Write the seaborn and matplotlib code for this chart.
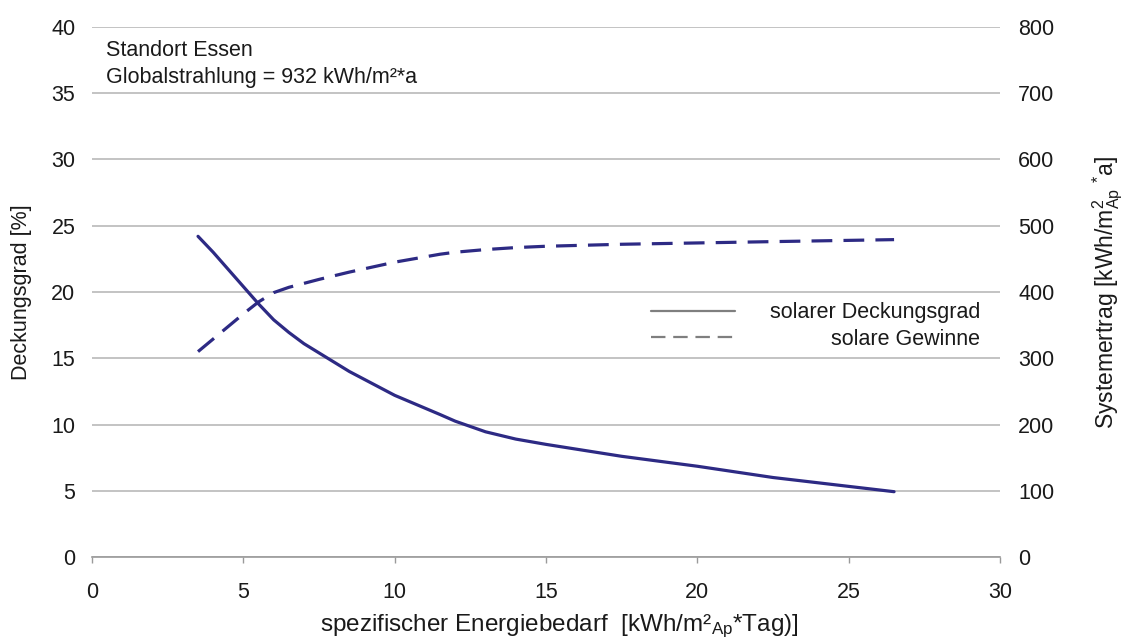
import matplotlib
matplotlib.use("Agg")
import matplotlib.pyplot as plt
import numpy as np
import pandas as pd
import seaborn as sns
from matplotlib.lines import Line2D

# ---- data ----
bedarf = [3.5, 4.0, 4.5, 5.0, 5.5, 6.0, 6.5, 7.0, 7.5, 8.5, 10, 11.5, 12, 13, 14, 15, 17.5, 20, 22.5, 26.5]
deckungsgrad = [24.2, 23.0, 21.7, 20.4, 19.1, 17.9, 16.95, 16.1, 15.4, 14.0, 12.2, 10.75, 10.25, 9.45, 8.9, 8.5, 7.6, 6.85, 6.0, 4.93]
gewinne = [310, 329, 348, 367, 385, 399, 407, 413, 419, 430, 445, 457, 460, 464, 467, 469, 472, 474, 476, 479]

x_ticks = [0, 5, 10, 15, 20, 25, 30]
y_left_ticks = [0, 5, 10, 15, 20, 25, 30, 35, 40]
y_right_ticks = [0, 100, 200, 300, 400, 500, 600, 700, 800]
series_labels = ["solarer Deckungsgrad", "solare Gewinne"]
note_lines = ["Standort Essen", "Globalstrahlung = 932 kWh/m²*a"]

df = pd.DataFrame({"bedarf": bedarf, "deckungsgrad": deckungsgrad, "gewinne": gewinne})

sns.set_theme(style="white")
plt.rcParams["font.family"] = ["Liberation Sans", "DejaVu Sans"]
plt.rcParams["mathtext.fontset"] = "custom"
plt.rcParams["mathtext.rm"] = "Liberation Sans"
plt.rcParams["mathtext.it"] = "Liberation Sans:italic"
plt.rcParams["mathtext.bf"] = "Liberation Sans:bold"

FS = 15.5
TXT = "#1a1a1a"
NAVY = "#2d2a84"
GRID = "#b9b9b9"

fig = plt.figure(figsize=(11.37, 6.41), dpi=100)
ax = fig.add_axes([0.081, 0.131, 0.7985, 0.827])
ax2 = ax.twinx()

sns.lineplot(data=df, x="bedarf", y="deckungsgrad", ax=ax, color=NAVY, lw=2.3)
sns.lineplot(data=df, x="bedarf", y="gewinne", ax=ax2, color=NAVY, lw=2.3,
             linestyle=(0, (6.5, 3.5)))

ax.set_xlim(0, 30)
ax.set_ylim(0, 40)
ax2.set_ylim(0, 800)
ax.set_xticks(x_ticks)
ax.set_yticks(y_left_ticks)
ax2.set_yticks(y_right_ticks)

ax.grid(axis="y", color=GRID, lw=1.2)
ax.grid(axis="x", visible=False)
ax2.grid(False)

for a in (ax, ax2):
    for s in ("top", "left", "right"):
        a.spines[s].set_visible(False)
ax2.spines["bottom"].set_visible(False)
ax.spines["bottom"].set_color("#9a9a9a")
ax.spines["bottom"].set_linewidth(1.2)

ax.tick_params(axis="x", bottom=True, length=4, width=1.0, color="#9a9a9a",
               pad=14, labelsize=FS, labelcolor=TXT)
ax.tick_params(axis="y", left=False, length=0, pad=12, labelsize=FS, labelcolor=TXT)
ax2.tick_params(axis="y", right=False, length=0, pad=13, labelsize=FS, labelcolor=TXT)

ax.set_xlabel("spezifischer Energiebedarf  [kWh/m²$_{\\mathrm{Ap}}$*Tag)]",
              fontsize=17.5, color=TXT)
ax.xaxis.set_label_coords(0.515, -0.105)
ax.set_ylabel("Deckungsgrad [%]", fontsize=FS, color=TXT, labelpad=14)
ax2.set_ylabel("Systemertrag [kWh/m$^{2}_{\\mathrm{Ap}}$ $^{*}$a]",
               fontsize=16.5, color=TXT, labelpad=26)

ax.text(0.46, 37.77, note_lines[0], fontsize=FS, color=TXT, va="baseline", ha="left")
ax.text(0.46, 35.78, note_lines[1], fontsize=FS, color=TXT, va="baseline", ha="left")

handles = [Line2D([], [], color="#7f7f7f", lw=1.6),
           Line2D([], [], color="#7f7f7f", lw=1.6, linestyle=(0, (6.5, 3.5)))]
leg = ax2.legend(handles, series_labels, loc="center right",
                 bbox_to_anchor=(0.978, 0.436), frameon=False, fontsize=FS,
                 handlelength=3.9, handletextpad=1.6, borderpad=0,
                 borderaxespad=0, labelspacing=0.25)
for t in leg.get_texts():
    t.set_color(TXT)

# right-align legend texts while keeping handles on the left
fig.canvas.draw()
r = fig.canvas.get_renderer()
widths = [t.get_window_extent(r).width for t in leg.get_texts()]
column = leg._legend_handle_box.get_children()[0]
for hp, w in zip(column.get_children(), widths):
    hp.sep += (max(widths) - w) * 72.0 / fig.dpi

fig.savefig("out.png", dpi=100, facecolor="white")
